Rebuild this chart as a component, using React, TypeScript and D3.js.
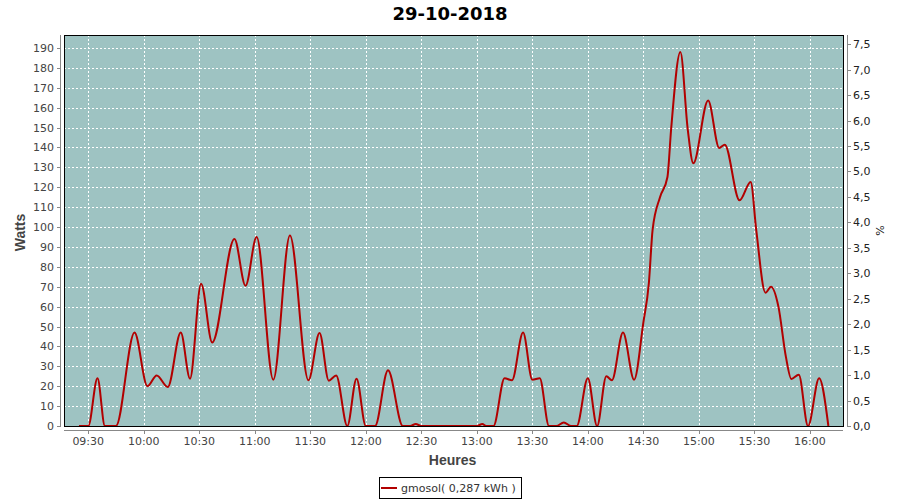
import React from "react";
import * as d3 from "d3";

const title = "29-10-2018";
const times = [
  "09:25","09:30","09:35","09:39","09:45","09:55","10:02","10:07","10:13","10:20",
  "10:25","10:31","10:37","10:49","10:55","11:01","11:10","11:19","11:29","11:35",
  "11:40","11:44","11:50","11:55","12:00","12:05","12:12","12:20","12:24","12:27",
  "12:30","13:00","13:03","13:05","13:09","13:15","13:19","13:25","13:30","13:34",
  "13:39","13:43","13:47","13:51","13:54","14:00","14:05","14:10","14:13","14:19",
  "14:25","14:30","14:33","14:35","14:39","14:43","14:45","14:50","14:54","14:57",
  "15:05","15:11","15:14","15:22","15:28","15:31","15:36","15:39","15:43","15:47",
  "15:50","15:54","15:59","16:05","16:10",
];
const watts = [
  0, 0, 24, 0, 0, 47, 20, 25.4, 19.6, 47,
  23.8, 71.5, 42, 94, 70.5, 95, 23.3, 95.8, 23, 46.7,
  22.8, 25.4, 0, 23.8, 0, 0, 28, 0, 0, 1,
  0, 0, 1, 0, 0, 24, 23, 47, 23.3, 24,
  0, 0, 1.8, 0, 0, 24, 0, 25, 23, 47,
  23.3, 52, 72, 98.6, 115, 125, 149, 188, 149, 132,
  163.6, 139.7, 141.4, 113.4, 122.6, 98.6, 67, 70, 60, 35,
  23.6, 25.8, 0, 24, 0,
];
const xDomain = ["09:16:54", "16:17:54"];
const xTickLabels = ["09:30","10:00","10:30","11:00","11:30","12:00","12:30","13:00","13:30","14:00","14:30","15:00","15:30","16:00"];
const wattDomain = [0, 196.5];
const wattTicks = [0,10,20,30,40,50,60,70,80,90,100,110,120,130,140,150,160,170,180,190];
const pctDomain = [0, 7.68];
const pctTicks = [0,0.5,1,1.5,2,2.5,3,3.5,4,4.5,5,5.5,6,6.5,7,7.5];
const yLabel = "Watts";
const y2Label = "%";
const xLabel = "Heures";
const legendLabel = "gmosol( 0,287 kWh )";

const toMin = (s: string) => {
  const p = s.split(":").map(Number);
  return p[0] * 60 + p[1] + (p[2] || 0) / 60;
};

const L = 64, R = 843, T = 35, B = 426;
const FONT = "'DejaVu Sans', sans-serif";
const LABEL_FONT = "'Liberation Sans', Arial, sans-serif";
const TXT = "#444444";
const AX = "#888888";

export default function App() {
  const x = d3.scaleLinear().domain(xDomain.map(toMin)).range([L, R]);
  const y = d3.scaleLinear().domain(wattDomain).range([B, T]);
  const y2 = d3.scaleLinear().domain(pctDomain).range([B, T]);
  const data = times.map((t, i) => ({ t: toMin(t), v: watts[i] }));
  const line = d3
    .line<{ t: number; v: number }>()
    .x((d) => x(d.t))
    .y((d) => y(d.v))
    .curve(d3.curveMonotoneX);

  return (
    <svg
      width={900}
      height={500}
      style={{ position: "absolute", left: 0, top: 0, background: "#fff" }}
      fontFamily={FONT}
    >
      <text x={450} y={20} textAnchor="middle" fontSize={18} fontWeight="bold" fill="#000">
        {title}
      </text>
      <defs>
        <clipPath id="plot">
          <rect x={L} y={T} width={R - L} height={B - T + 1} />
        </clipPath>
      </defs>
      <rect x={L} y={T} width={R - L} height={B - T} fill="#9EC3C2" />
      {wattTicks.map((v) => (
        <line key={"gy" + v} x1={L} x2={R} y1={Math.round(y(v)) + 0.5} y2={Math.round(y(v)) + 0.5}
          stroke="#fff" strokeDasharray="2,2" strokeWidth={1} />
      ))}
      {xTickLabels.map((s) => (
        <line key={"gx" + s} x1={Math.round(x(toMin(s))) + 0.5} x2={Math.round(x(toMin(s))) + 0.5} y1={T} y2={B}
          stroke="#fff" strokeDasharray="2,2" strokeWidth={1} />
      ))}
      <path d={line(data) || ""} fill="none" stroke="#B20000" strokeWidth={2} clipPath="url(#plot)" strokeLinejoin="round" />
      <rect x={L + 0.5} y={T + 0.5} width={R - L} height={B - T} fill="none" stroke="#000" strokeWidth={1} />

      {/* left axis */}
      <line x1={60.5} x2={60.5} y1={T} y2={B + 1} stroke={AX} />
      {wattTicks.map((v) => (
        <g key={"ly" + v}>
          <line x1={57} x2={60} y1={Math.round(y(v)) + 0.5} y2={Math.round(y(v)) + 0.5} stroke={AX} />
          <text x={54} y={y(v) + 4} textAnchor="end" fontSize={11} fill={TXT}>{v}</text>
        </g>
      ))}
      <text transform={`translate(25,${(T + B) / 2 + 2}) rotate(-90)`} textAnchor="middle" fontSize={14} fontWeight="bold" fill={TXT} fontFamily={LABEL_FONT}>
        {yLabel}
      </text>

      {/* right axis */}
      <line x1={847.5} x2={847.5} y1={T} y2={B + 1} stroke={AX} />
      {pctTicks.map((v) => (
        <g key={"ry" + v}>
          <line x1={848} x2={851} y1={Math.round(y2(v)) + 0.5} y2={Math.round(y2(v)) + 0.5} stroke={AX} />
          <text x={853} y={y2(v) + 4} textAnchor="start" fontSize={11} fill="#222">
            {v.toFixed(1).replace(".", ",")}
          </text>
        </g>
      ))}
      <text transform={`translate(884,${(T + B) / 2}) rotate(-90)`} textAnchor="middle" fontSize={11} fill="#222">
        {y2Label}
      </text>

      {/* bottom axis */}
      <line x1={L} x2={R} y1={430.5} y2={430.5} stroke={AX} />
      {xTickLabels.map((s) => (
        <g key={"bx" + s}>
          <line x1={Math.round(x(toMin(s))) + 0.5} x2={Math.round(x(toMin(s))) + 0.5} y1={431} y2={434} stroke={AX} />
          <text x={x(toMin(s))} y={445} textAnchor="middle" fontSize={11} fill={TXT}>{s}</text>
        </g>
      ))}
      <text x={(L + R) / 2 - 1} y={465} textAnchor="middle" fontSize={14} fontWeight="bold" fill={TXT} fontFamily={LABEL_FONT}>
        {xLabel}
      </text>

      {/* legend */}
      <rect x={379.5} y={477.5} width={142} height={21} fill="#fff" stroke="#000" />
      <line x1={381} x2={397} y1={488} y2={488} stroke="#B20000" strokeWidth={2} />
      <text x={401} y={492} fontSize={11} fill="#333">{legendLabel}</text>
    </svg>
  );
}
